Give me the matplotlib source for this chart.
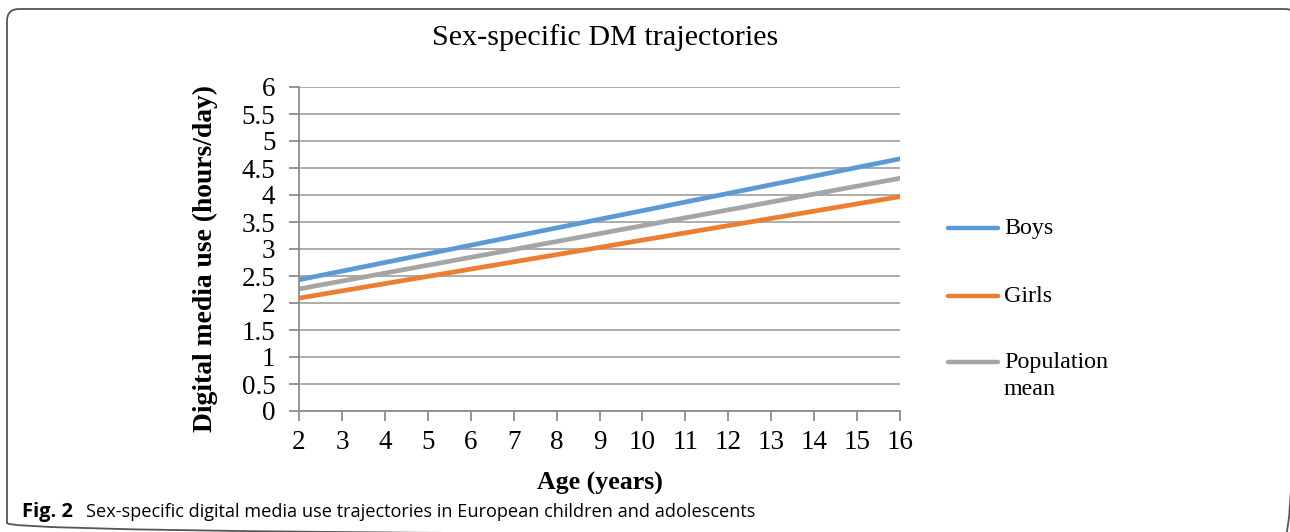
import matplotlib
matplotlib.use("Agg")
import matplotlib.pyplot as plt
from matplotlib.patches import FancyBboxPatch

# data (straight-line trajectories)
ages = [2, 16]
boys = [2.43, 4.67]
girls = [2.09, 3.97]
population = [2.26, 4.31]

x_ticks = list(range(2, 17))
y_ticks = [0, 0.5, 1, 1.5, 2, 2.5, 3, 3.5, 4, 4.5, 5, 5.5, 6]
y_tick_labels = ["0", "0.5", "1", "1.5", "2", "2.5", "3", "3.5", "4", "4.5", "5", "5.5", "6"]

series = [
    ("Boys", boys, "#5B9BD5"),
    ("Girls", girls, "#ED7D31"),
    ("Population\nmean", population, "#A5A5A5"),
]

W, H = 1290, 532
plt.rcParams['font.family'] = ['Liberation Serif', 'DejaVu Serif']
fig = plt.figure(figsize=(W / 100, H / 100), dpi=100)

# overlay in pixel units for the frame, legend and caption
bg = fig.add_axes([0, 0, 1, 1])
bg.set_xlim(0, W)
bg.set_ylim(H, 0)
bg.axis("off")
bg.add_patch(FancyBboxPatch((7, 9), 1290, 526,
                            boxstyle="round,pad=0,rounding_size=12",
                            facecolor="none", edgecolor="#555555", linewidth=1.3,
                            clip_on=False))

ax = fig.add_axes([299 / W, 1 - 411 / H, (900 - 299) / W, (411 - 87) / H])

for name, vals, col in series:
    ax.plot(ages, vals, color=col, linewidth=3.4, solid_capstyle="round")

ax.set_xlim(2, 16)
ax.set_ylim(0, 6)
ax.set_xticks(x_ticks)
ax.set_yticks(y_ticks)
ax.set_yticklabels(y_tick_labels)
ax.tick_params(axis="both", labelsize=19.5, colors="#8c8c8c", labelcolor="black",
               length=7, width=1.3, direction="out")
ax.tick_params(axis="x", pad=7)
ax.tick_params(axis="y", pad=10)
ax.grid(axis="y", color="#a6a6a6", linewidth=1.3)
ax.set_axisbelow(True)
for s in ["top", "right"]:
    ax.spines[s].set_visible(False)
for s in ["left", "bottom"]:
    ax.spines[s].set_color("#8c8c8c")
    ax.spines[s].set_linewidth(1.3)

ax.set_xlabel("Age (years)", fontsize=18.6, fontweight="bold", labelpad=12)
ax.set_ylabel("Digital media use (hours/day)", fontsize=19.9, fontweight="bold")
ax.yaxis.set_label_coords(-0.135, 0.47)

bg.text(605, 38, "Sex-specific DM trajectories", fontsize=21.7,
        ha="center", va="center")

# legend drawn by hand so the two-line label keeps its line next to the first row
leg_y = [228, 296, 362]
for (name, vals, col), y in zip(series, leg_y):
    bg.plot([948, 998], [y, y], color=col, linewidth=3.2, solid_capstyle="round")
    bg.text(1004, y - 10, name, fontsize=17.3, ha="left", va="top",
            linespacing=1.38)

# figure caption
bg.text(22, 512, "Fig. 2", fontsize=14.5, fontweight="bold",
        family="Open Sans", ha="left", va="center")
bg.text(86, 512,
        "Sex-specific digital media use trajectories in European children and adolescents",
        fontsize=13.1, family="Open Sans", ha="left", va="center")

fig.savefig("out.png", dpi=100)
